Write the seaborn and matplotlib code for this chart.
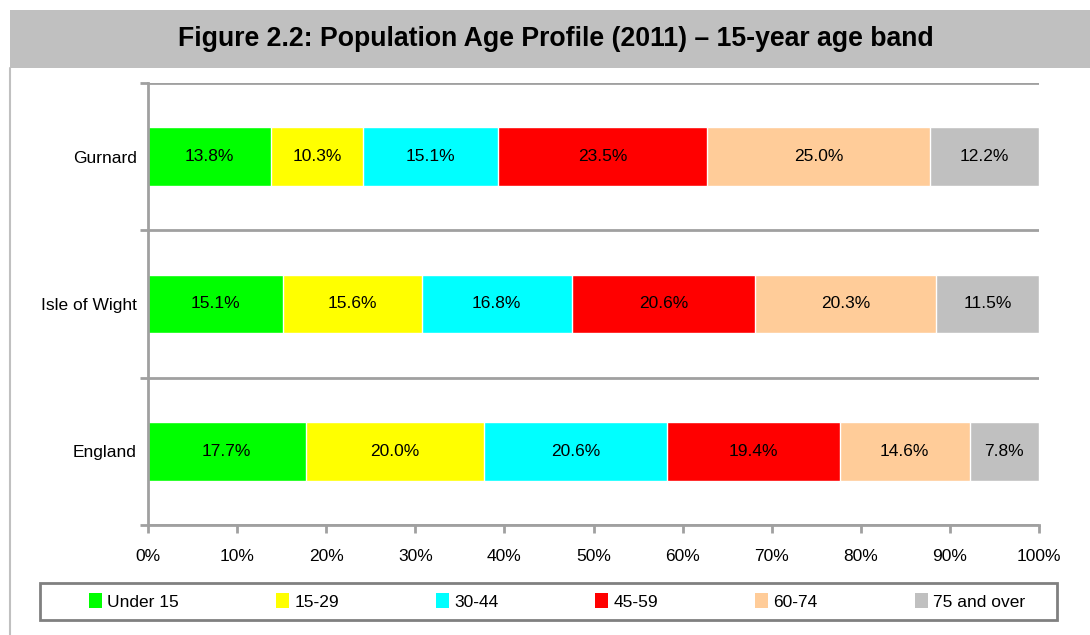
import numpy as np
import pandas as pd
import matplotlib
matplotlib.use("Agg")
import matplotlib.pyplot as plt
import seaborn as sns
from matplotlib.patches import Patch, Rectangle
from matplotlib.lines import Line2D

# Data
areas = ["Gurnard", "Isle of Wight", "England"]
bands = ["Under 15", "15-29", "30-44", "45-59", "60-74", "75 and over"]
gurnard = [13.8, 10.3, 15.1, 23.5, 25.0, 12.2]
isle_of_wight = [15.1, 15.6, 16.8, 20.6, 20.3, 11.5]
england = [17.7, 20.0, 20.6, 19.4, 14.6, 7.8]
colours = ["#00FF00", "#FFFF00", "#00FFFF", "#FF0000", "#FFCC99", "#C0C0C0"]
xticks = [0, 10, 20, 30, 40, 50, 60, 70, 80, 90, 100]

sns.set_style("white")
plt.rcParams["font.family"] = ["Liberation Sans", "DejaVu Sans"]
plt.rcParams["text.color"] = "black"
plt.rcParams["xtick.labelcolor"] = "black"
plt.rcParams["ytick.labelcolor"] = "black"

vals = pd.DataFrame([gurnard, isle_of_wight, england], index=areas, columns=bands)
# 100% stacked, like the original spreadsheet chart
share = vals.div(vals.sum(axis=1), axis=0) * 100
cum = share.cumsum(axis=1)

fig = plt.figure(figsize=(10.9, 6.35), dpi=100)
W, H = 1090, 635
FS = 12.5

# title band and frame
fig.patches.append(Rectangle((10 / W, 1 - 68 / H), 1 - 10 / W, 58 / H, transform=fig.transFigure,
                             facecolor="#C0C0C0", edgecolor="none", zorder=0))
fig.lines.append(Line2D([10 / W, 10 / W], [0, 1 - 68 / H], transform=fig.transFigure,
                        color="#C0C0C0", lw=1.5))
fig.text(556 / W, 1 - 39 / H, "Figure 2.2: Population Age Profile (2011) \u2013 15-year age band",
         ha="center", va="center", fontsize=19.2, fontweight="bold", color="black")

ax = fig.add_axes([148 / W, 1 - 525 / H, 891 / W, 442 / H])

# overlay cumulative bars, longest first
for i in range(len(bands) - 1, -1, -1):
    d = pd.DataFrame({"area": areas, "value": cum[bands[i]].values})
    sns.barplot(data=d, x="value", y="area", orient="h", color=colours[i],
                width=0.4, saturation=1, ax=ax, zorder=2)

for r, area in enumerate(areas):
    left = 0
    for b in bands:
        w = share.loc[area, b]
        ax.text(left + w / 2, r, f"{vals.loc[area, b]:.1f}%", ha="center", va="center",
                fontsize=FS, zorder=3)
        left += w

ax.set_xlim(0, 100)
ax.set_ylim(2.5, -0.5)
ax.set_xticks(xticks)
ax.set_xticklabels([f"{t}%" for t in xticks], fontsize=FS)
ax.set_yticks(range(len(areas)))
ax.set_yticklabels(areas, fontsize=FS)
ax.set_yticks([-0.5, 0.5, 1.5, 2.5], minor=True)
ax.set_xlabel("")
ax.set_ylabel("")
ax.tick_params(axis="y", which="major", length=0, pad=8)
ax.tick_params(axis="y", which="minor", length=6, width=2, color="#A0A0A0", direction="out", left=True)
ax.tick_params(axis="x", length=6, width=2, color="#A0A0A0", direction="out", bottom=True, pad=11)
ax.grid(axis="y", which="minor", color="#A0A0A0", lw=2, zorder=1)
ax.set_axisbelow(True)
for s in ["top", "right"]:
    ax.spines[s].set_visible(False)
for s in ["left", "bottom"]:
    ax.spines[s].set_color("#A0A0A0")
    ax.spines[s].set_linewidth(2)

# legend box
fig.patches.append(Rectangle((40 / W, 1 - 620 / H), 1017 / W, 37 / H, transform=fig.transFigure,
                             facecolor="white", edgecolor="#808080", lw=2, zorder=1))
handles = [Patch(facecolor=c, edgecolor="none", label=b) for c, b in zip(colours, bands)]
leg = fig.legend(handles=handles, loc="center left", ncol=6, mode="expand",
                 bbox_to_anchor=(89 / W, 1 - 612 / H, 936 / W, 21 / H),
                 fontsize=FS, frameon=False, handlelength=0.75,
                 handleheight=0.95, handletextpad=0.3, borderaxespad=0, borderpad=0)

fig.savefig("out.png", dpi=100)
